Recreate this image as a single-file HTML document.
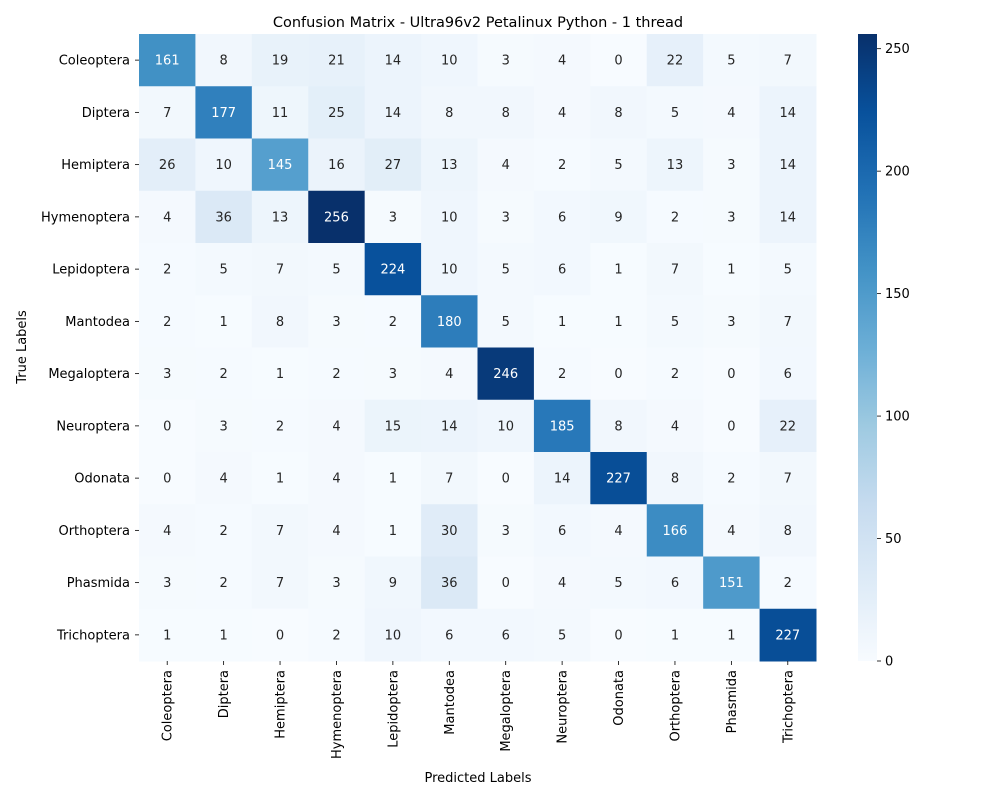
<!DOCTYPE html>
<html><head><meta charset="utf-8"><style>
body{margin:0;background:#fff;font-family:"Liberation Sans","DejaVu Sans",sans-serif;}
svg text{font-family:"DejaVu Sans","Liberation Sans",sans-serif;}
</style></head><body>
<svg id="chart" width="1000" height="800" viewBox="0 0 1000 800"></svg>
<script>
const labels=["Coleoptera","Diptera","Hemiptera","Hymenoptera","Lepidoptera","Mantodea","Megaloptera","Neuroptera","Odonata","Orthoptera","Phasmida","Trichoptera"];
const row0=[161,8,19,21,14,10,3,4,0,22,5,7];
const row1=[7,177,11,25,14,8,8,4,8,5,4,14];
const row2=[26,10,145,16,27,13,4,2,5,13,3,14];
const row3=[4,36,13,256,3,10,3,6,9,2,3,14];
const row4=[2,5,7,5,224,10,5,6,1,7,1,5];
const row5=[2,1,8,3,2,180,5,1,1,5,3,7];
const row6=[3,2,1,2,3,4,246,2,0,2,0,6];
const row7=[0,3,2,4,15,14,10,185,8,4,0,22];
const row8=[0,4,1,4,1,7,0,14,227,8,2,7];
const row9=[4,2,7,4,1,30,3,6,4,166,4,8];
const row10=[3,2,7,3,9,36,0,4,5,6,151,2];
const row11=[1,1,0,2,10,6,6,5,0,1,1,227];
const matrix=[row0,row1,row2,row3,row4,row5,row6,row7,row8,row9,row10,row11];
const cbTicks=[0,50,100,150,200,250];
const vmin=0,vmax=256;

const NS="http://www.w3.org/2000/svg";
const svg=document.getElementById('chart');
const L=139,R=816,T=34,B=661;
const n=labels.length;
const cw=(R-L)/n,ch=(B-T)/n;
const xPos=i=>L+i*cw, yPos=j=>T+j*ch;
const stops=["#f7fbff","#deebf7","#c6dbef","#9ecae1","#6baed6","#4292c6","#2171b5","#08519c","#08306b"].map(h=>[parseInt(h.slice(1,3),16),parseInt(h.slice(3,5),16),parseInt(h.slice(5,7),16)]);
function cmap(v){let t=Math.max(0,Math.min(1,(v-vmin)/(vmax-vmin)))*8;let i=Math.min(7,Math.floor(t)),f=t-i;
 return stops[i].map((c,k)=>Math.round(c+(stops[i+1][k]-c)*f));}
function lum(c){const s=c.map(x=>{x/=255;return x<=0.03928?x/12.92:Math.pow((x+0.055)/1.055,2.4)});return 0.2126*s[0]+0.7152*s[1]+0.0722*s[2];}
function mk(tag,attrs,txt){const e=document.createElementNS(NS,tag);for(const k in attrs)e.setAttribute(k,attrs[k]);if(txt!==undefined)e.textContent=txt;svg.appendChild(e);return e;}

const title=mk('text',{x:478,y:27,'text-anchor':'middle','font-size':14.5,fill:'#000'},'Confusion Matrix - Ultra96v2 Petalinux Python - 1 thread');



for(let r=0;r<n;r++)for(let c=0;c<n;c++){
 const v=matrix[r][c];const col=cmap(v);
 const rect=mk('rect',{x:xPos(c),y:yPos(r),width:cw+0.5,height:ch+0.5,fill:`rgb(${col})`});
 
 
 const t=mk('text',{x:xPos(c)+cw/2,y:yPos(r)+ch/2+4.5,'text-anchor':'middle','font-size':13,fill:lum(col)>0.408?'#262626':'#fff'},v);
 
 
}
for(let i=0;i<n;i++){
 const ty=yPos(i)+ch/2;
 mk('line',{x1:135,x2:139,y1:ty,y2:ty,stroke:'#000','stroke-width':0.8});
 const yl=mk('text',{x:130,y:ty+4.5,'text-anchor':'end','font-size':13},labels[i]);
 
 
 const tx=xPos(i)+cw/2;
 mk('line',{x1:tx,x2:tx,y1:661,y2:665,stroke:'#000','stroke-width':0.8});
 const xl=mk('text',{x:0,y:0,'text-anchor':'end','font-size':13,transform:`translate(${tx+4.5},670) rotate(-90)`},labels[i]);
 
 
}
const xt=mk('text',{x:478,y:782,'text-anchor':'middle','font-size':13},'Predicted Labels');


const yt=mk('text',{x:0,y:0,'text-anchor':'middle','font-size':13,transform:'translate(26,347) rotate(-90)'},'True Labels');



// colorbar
const cbL=858,cbW=19,cbT=34,cbB=661;
const cbY=v=>cbB-(v-vmin)/(vmax-vmin)*(cbB-cbT);
const defs=mk('defs',{});
const g=document.createElementNS(NS,'linearGradient');g.setAttribute('id','cbg');g.setAttribute('x1','0');g.setAttribute('y1','1');g.setAttribute('x2','0');g.setAttribute('y2','0');
for(let i=0;i<=32;i++){const s=document.createElementNS(NS,'stop');s.setAttribute('offset',i/32);s.setAttribute('stop-color',`rgb(${cmap(vmin+(vmax-vmin)*i/32)})`);g.appendChild(s);}
defs.appendChild(g);
const cb=mk('rect',{x:cbL,y:cbT,width:cbW,height:cbB-cbT,fill:'url(#cbg)'});


cbTicks.forEach(v=>{const y=cbY(v);
 mk('line',{x1:cbL+cbW,x2:cbL+cbW+4,y1:y,y2:y,stroke:'#000','stroke-width':0.8});
 const t=mk('text',{x:cbL+cbW+8,y:y+4.5,'font-size':13},v);
 
 
});
</script>
</body></html>
